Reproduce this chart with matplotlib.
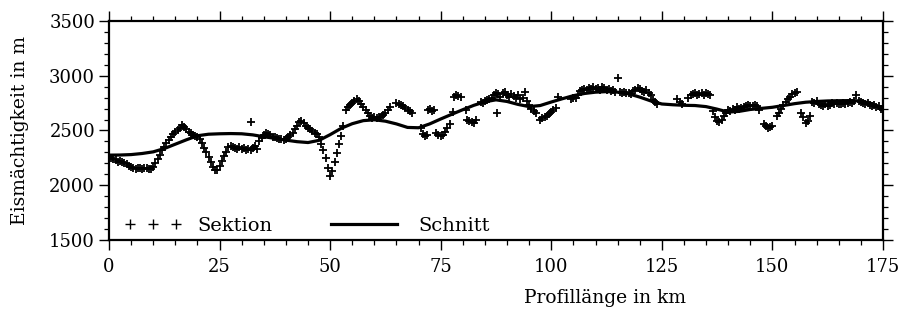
import numpy as np
import matplotlib.pyplot as plt
from matplotlib.ticker import MultipleLocator

plt.rcParams['font.family'] = ['DejaVu Serif']

# Schnitt (glatte Kurve)
schnitt_km = [0, 2.5, 5, 7.5, 10, 12.5, 15, 17.5, 20, 22.5, 25, 27.5, 30, 32.5, 35,
              37.5, 40, 42.5, 45, 47.5, 50, 52.5, 55, 57.5, 60, 62.5, 65, 67.5, 70,
              72.5, 75, 77.5, 80, 82.5, 85, 87.5, 90, 92.5, 95, 97.5, 100, 102.5, 105,
              107.5, 110, 112.5, 115, 117.5, 120, 122.5, 125, 127.5, 130, 132.5, 135,
              137.5, 140, 142.5, 145, 147.5, 150, 152.5, 155, 157.5, 160, 162.5, 165,
              167.5, 170, 172.5, 175]
schnitt_m = [2275, 2276, 2280, 2290, 2305, 2335, 2375, 2415, 2452, 2466, 2470, 2472,
             2470, 2460, 2443, 2428, 2412, 2398, 2390, 2410, 2462, 2520, 2562, 2590,
             2598, 2585, 2560, 2528, 2525, 2560, 2605, 2648, 2690, 2730, 2762, 2780,
             2765, 2738, 2718, 2728, 2760, 2790, 2818, 2838, 2850, 2855, 2850, 2835,
             2805, 2770, 2742, 2735, 2730, 2728, 2718, 2695, 2668, 2675, 2692, 2702,
             2712, 2728, 2745, 2758, 2765, 2770, 2772, 2773, 2770, 2745, 2690]

# Sektion (Einzelwerte)
sek_a_km = [0.0, 0.5, 1.0, 1.5, 2.0, 2.5, 3.0, 3.5, 4.0, 4.5, 5.0, 5.5, 6.0, 6.5, 7.0,
            7.5, 8.0, 8.5, 9.0, 9.5, 10.0, 10.5, 11.0, 11.5, 12.0, 12.5, 13.0, 13.5,
            14.0, 14.5, 15.0, 15.5, 16.0, 16.5, 17.0, 17.5, 18.0, 18.5, 19.0, 19.5,
            20.0, 20.5, 21.0, 21.5, 22.0, 22.5, 23.0, 23.5, 24.0, 24.5, 25.0, 25.5,
            26.0, 26.5, 27.0]
sek_a_m = [2255, 2250, 2240, 2230, 2215, 2225, 2210, 2200, 2190, 2175, 2165, 2160,
           2150, 2160, 2155, 2150, 2160, 2155, 2150, 2145, 2165, 2200, 2240, 2280,
           2320, 2350, 2390, 2410, 2440, 2465, 2485, 2500, 2525, 2550, 2530, 2510,
           2490, 2475, 2460, 2450, 2445, 2420, 2390, 2340, 2300, 2260, 2210, 2170,
           2135, 2140, 2175, 2220, 2265, 2300, 2345]

sek_b_km = [27.5, 28.0, 28.5, 29.0, 29.5, 30.0, 30.5, 31.0, 31.5, 32.0, 32.2, 32.5,
            33.0, 33.5, 34.0, 34.5, 35.0, 35.5, 36.0, 36.5, 37.0, 37.5, 38.0, 38.5,
            39.0, 39.5, 40.0, 40.5, 41.0, 41.5, 42.0, 42.5, 43.0, 43.5, 44.0, 44.5,
            45.0, 45.5, 46.0, 46.5, 47.0, 47.5, 48.0, 48.5, 49.0, 49.5, 50.0, 50.5,
            51.0, 51.5, 52.0, 52.5, 53.0]
sek_b_m = [2360, 2345, 2340, 2335, 2345, 2330, 2340, 2325, 2330, 2320, 2580, 2340,
           2355, 2330, 2400, 2430, 2460, 2480, 2470, 2455, 2445, 2440, 2430, 2420,
           2425, 2415, 2420, 2440, 2455, 2480, 2510, 2545, 2575, 2585, 2570, 2545,
           2525, 2510, 2495, 2480, 2470, 2445, 2380, 2320, 2250, 2160, 2080, 2130,
           2210, 2290, 2380, 2450, 2540]

sek_c_km = [53.5, 54.0, 54.5, 55.0, 55.5, 56.0, 56.5, 57.0, 57.5, 58.0, 58.5, 59.0,
            59.5, 60.0, 60.5, 61.0, 61.5, 62.0, 62.5, 63.0, 63.5,
            65.0, 65.5, 66.0, 66.5, 67.0, 67.5, 68.0, 68.5,
            70.5, 71.0, 71.5, 72.0, 72.2, 72.6, 73.0, 73.4,
            74.0, 74.5, 75.0, 75.5, 76.0, 76.5, 77.0, 77.7,
            78.0, 78.5, 79.0, 79.5, 80.8, 81.0, 81.5, 82.0, 82.5, 83.0]
sek_c_m = [2690, 2715, 2735, 2750, 2770, 2785, 2770, 2740, 2715, 2690, 2660, 2630,
           2615, 2620, 2610, 2625, 2620, 2640, 2660, 2690, 2710,
           2750, 2745, 2730, 2720, 2705, 2690, 2680, 2660,
           2520, 2470, 2450, 2460, 2690, 2695, 2680, 2685,
           2475, 2455, 2450, 2460, 2490, 2525, 2560, 2672,
           2810, 2820, 2815, 2805, 2687, 2600, 2590, 2580, 2570, 2596]

sek_d_km = [84.0, 84.5, 85.0, 85.5, 86.0, 86.5, 87.0, 87.5, 87.8, 88.0, 88.5, 89.0,
            89.5, 90.0, 90.5, 91.0, 91.5, 92.0, 92.5, 93.0, 93.5, 94.0, 94.5, 95.0,
            95.5, 96.0, 96.5, 97.5, 98.0, 98.5, 99.0, 99.5, 100.0, 100.5, 101.0, 101.5]
sek_d_m = [2760, 2755, 2770, 2775, 2790, 2800, 2820, 2840, 2660, 2830, 2810, 2840,
           2850, 2820, 2810, 2830, 2815, 2800, 2820, 2790, 2800, 2850, 2770, 2730,
           2700, 2680, 2660, 2600, 2610, 2620, 2635, 2650, 2665, 2685, 2705, 2805]

sek_e_km = [104.5, 105.0, 105.5, 106.0, 106.5, 107.0, 107.5, 108.0, 108.5, 109.0,
            109.5, 110.0, 110.5, 111.0, 111.5, 112.0, 112.5, 113.0, 113.5, 114.0,
            114.5, 115.0, 115.5, 116.0, 116.5, 117.0, 117.5, 118.0, 118.5, 119.0,
            119.5, 120.0, 120.5, 121.0, 121.5, 122.0, 122.5, 123.0, 123.5, 124.0]
sek_e_m = [2790, 2795, 2800, 2820, 2860, 2870, 2880, 2870, 2890, 2880,
           2900, 2880, 2890, 2870, 2900, 2890, 2870, 2880, 2860, 2870,
           2855, 2980, 2850, 2840, 2850, 2840, 2845, 2830, 2860, 2870,
           2890, 2880, 2860, 2850, 2870, 2840, 2820, 2780, 2760, 2740]

sek_f_km = [128.5, 129.0, 129.5, 131.0, 131.5, 132.0, 132.5, 133.0, 133.5, 134.0,
            134.5, 135.0, 135.5, 136.0, 136.5, 137.0, 137.5, 138.0, 138.5, 139.0,
            139.5, 140.0, 140.5, 141.0, 141.5, 142.0, 142.5, 143.0, 143.5, 144.0,
            144.5, 145.0, 145.5, 146.0, 146.5, 147.0, 148.0, 148.5, 149.0, 149.5,
            150.0, 151.0, 151.5, 152.0, 152.5, 153.0, 153.5, 154.0, 154.5, 155.0,
            155.5, 156.5, 157.0, 157.5, 158.0, 158.5]
sek_f_m = [2790, 2760, 2740, 2800, 2820, 2830, 2840, 2820, 2830, 2840,
           2825, 2840, 2830, 2820, 2680, 2620, 2590, 2580, 2600, 2630,
           2660, 2690, 2680, 2700, 2690, 2710, 2700, 2705, 2710, 2720,
           2730, 2720, 2725, 2735, 2720, 2690, 2560, 2540, 2520, 2530,
           2540, 2630, 2660, 2700, 2730, 2760, 2790, 2810, 2830, 2840,
           2850, 2660, 2620, 2570, 2590, 2630]

sek_g_km = [159.0, 159.5, 160.0, 160.5, 161.0, 161.5, 162.0, 162.5, 163.0, 163.5,
            164.0, 164.5, 165.0, 165.5, 166.0, 166.5, 167.0, 167.5, 168.0, 168.5,
            169.0, 169.5, 170.0, 170.5, 171.0, 171.5, 172.0, 172.5, 173.0, 173.5,
            174.0, 174.5, 175.0]
sek_g_m = [2760, 2750, 2770, 2740, 2730, 2720, 2740, 2720, 2730, 2750,
           2740, 2750, 2740, 2745, 2750, 2740, 2750, 2760, 2750, 2770,
           2820, 2770, 2760, 2750, 2740, 2750, 2730, 2720, 2730, 2710,
           2720, 2700, 2690]

sek_km = sek_a_km + sek_b_km + sek_c_km + sek_d_km + sek_e_km + sek_f_km + sek_g_km
sek_m = sek_a_m + sek_b_m + sek_c_m + sek_d_m + sek_e_m + sek_f_m + sek_g_m

x_ticks = [0, 25, 50, 75, 100, 125, 150, 175]
y_ticks = [1500, 2000, 2500, 3000, 3500]

# =========================
fig = plt.figure(figsize=(9, 3.1), dpi=100)
ax = fig.add_axes([0.1211, 0.2258, 0.8600, 0.7065])

pts, = ax.plot(sek_km, sek_m, linestyle='none', marker='+', markersize=6,
               markeredgewidth=1.3, color='black', label='Sektion')
line, = ax.plot(schnitt_km, schnitt_m, color='black', linewidth=2.3, label='Schnitt')

ax.set_xlim(0, 175)
ax.set_ylim(1500, 3500)
ax.set_xticks(x_ticks)
ax.set_yticks(y_ticks)
ax.xaxis.set_minor_locator(MultipleLocator(5))
ax.yaxis.set_minor_locator(MultipleLocator(100))
ax.tick_params(which='both', direction='out', top=True, right=True, color='black')
ax.tick_params(which='major', length=7, width=1.0, labelsize=13, pad=3)
ax.tick_params(axis='x', which='major', pad=6)
ax.tick_params(which='minor', length=3.5, width=0.9)
for s in ax.spines.values():
    s.set_linewidth(1.6)

ax.set_xlabel('Profillänge in km', fontsize=13.5)
ax.set_ylabel('Eismächtigkeit in m', fontsize=13.5)
ax.xaxis.set_label_coords(0.641, -0.225)
ax.yaxis.set_label_coords(-0.103, 0.5)

leg1 = ax.legend(handles=[pts], loc='center left', bbox_to_anchor=(0.0196, 0.064),
                 frameon=False, numpoints=3, markerscale=1.2, fontsize=14,
                 handlelength=2.97, handletextpad=0.78, borderpad=0, borderaxespad=0)
leg1.get_lines()[0].set_markeredgewidth(1.0)
ax.add_artist(leg1)
ax.legend(handles=[line], loc='center left', bbox_to_anchor=(0.2868, 0.064),
          frameon=False, fontsize=14, handlelength=3.4, handletextpad=1.08,
          borderpad=0, borderaxespad=0)

fig.savefig('out.png', dpi=100)
